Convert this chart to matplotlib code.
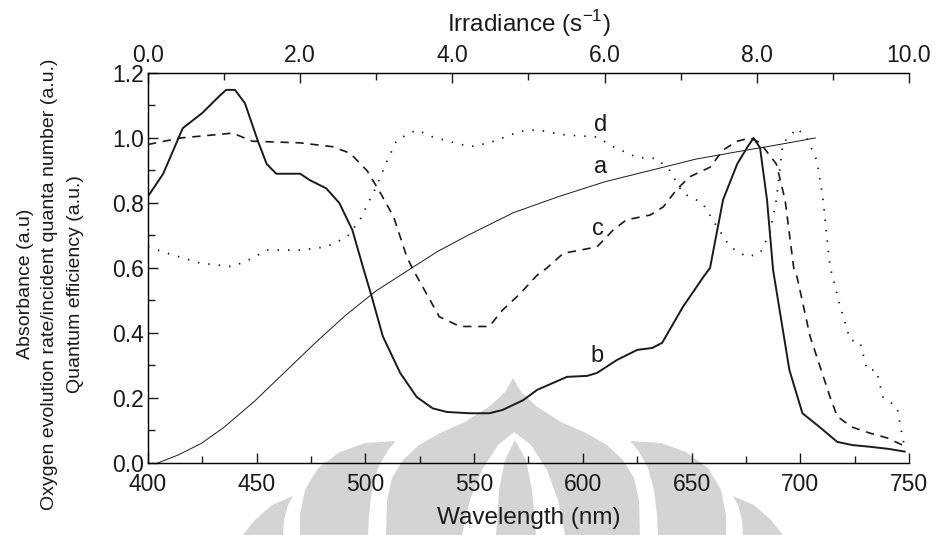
import matplotlib.pyplot as plt
from matplotlib.patches import Polygon
from matplotlib.ticker import MultipleLocator, FormatStrFormatter

plt.rcParams['font.family'] = ['Liberation Sans', 'DejaVu Sans']

# curva a: vs irradiancia (eje superior)
irr_a = [0.13, 0.4, 0.7, 1.0, 1.4, 1.8, 2.2, 2.6, 3.0, 3.4, 3.8, 4.2, 4.8, 5.4, 6.0, 6.6, 7.2, 7.8, 8.3, 8.77]
val_a = [0.0, 0.025, 0.06, 0.11, 0.19, 0.28, 0.37, 0.455, 0.53, 0.59, 0.65, 0.70, 0.77, 0.82, 0.865, 0.90, 0.935, 0.96, 0.98, 1.0]

# curva b: absorbancia
wl_b = [400, 407, 416, 425, 433, 436, 440, 444.6, 450.6, 454.6, 459, 470, 474.5, 482, 488, 494, 499,
        503, 508, 516, 523.6, 531, 537.5, 548, 557, 563, 572.5, 579, 592.7, 602, 606.5, 615.7, 625,
        632, 636.5, 646, 655.5, 658.5, 664.5, 671, 675.5, 678.5, 681.5, 684.7, 687.5, 695, 701, 709,
        717, 724, 732, 741, 748]
val_b = [0.82, 0.89, 1.03, 1.077, 1.13, 1.148, 1.148, 1.107, 0.99, 0.92, 0.89, 0.89, 0.87, 0.845, 0.80, 0.717, 0.60,
         0.51, 0.39, 0.277, 0.203, 0.168, 0.157, 0.153, 0.153, 0.163, 0.193, 0.225, 0.265, 0.268, 0.277, 0.317, 0.348,
         0.354, 0.37, 0.48, 0.573, 0.60, 0.81, 0.92, 0.97, 1.0, 0.97, 0.81, 0.594, 0.286, 0.153, 0.11,
         0.065, 0.055, 0.05, 0.043, 0.035]

# curva c: tasa de evolucion de oxigeno
wl_c = [400, 415, 439, 448, 470, 485, 493, 500.7, 507, 513, 519, 522, 534, 543.5, 557, 563, 571, 579,
        583.5, 591, 606.5, 614, 620, 631, 637, 643, 649, 658.5, 664.5, 671, 677, 681.5, 689, 693, 697,
        698.5, 704.5, 713.7, 717, 724, 732, 740, 747]
val_c = [0.98, 1.0, 1.015, 0.99, 0.985, 0.973, 0.953, 0.90, 0.83, 0.757, 0.635, 0.594, 0.45, 0.42, 0.42, 0.47, 0.52, 0.578,
         0.60, 0.645, 0.665, 0.717, 0.748, 0.763, 0.788, 0.84, 0.88, 0.91, 0.963, 0.99, 1.0, 0.985, 0.92, 0.81, 0.60,
         0.573, 0.39, 0.203, 0.143, 0.11, 0.092, 0.077, 0.055]

# curva d: eficiencia cuantica
wl_d = [400, 409, 424, 439, 448, 454.6, 470, 482, 491.5, 497.5, 505, 510, 514.5, 523.6, 531, 548, 557, 571,
        579, 591, 606.5, 614, 625, 634, 640, 646, 655, 661.7, 667.7, 675.5, 681.5, 686, 689, 692, 695,
        698.5, 703, 707.7, 710.5, 713.7, 715, 718, 723, 727.5, 730.7, 735, 738, 744.5, 747, 748]
val_d = [0.665, 0.645, 0.615, 0.604, 0.63, 0.655, 0.655, 0.665, 0.695, 0.748, 0.85, 0.93, 0.994, 1.025, 1.003, 0.973, 0.985, 1.02,
         1.025, 1.01, 1.003, 0.973, 0.94, 0.937, 0.90, 0.83, 0.80, 0.727, 0.665, 0.634, 0.645, 0.707, 0.81, 0.985, 1.003,
         1.03, 1.0, 0.93, 0.81, 0.60, 0.573, 0.49, 0.378, 0.372, 0.286, 0.286, 0.203, 0.172, 0.08, 0.05]

etiquetas = ['a', 'b', 'c', 'd']
pos_etiquetas = [(608, 0.91), (606.5, 0.33), (607, 0.72), (608, 1.04)]

W, H = 940, 535
fig = plt.figure(figsize=(9.4, 5.35), dpi=100)

# marca de agua (logo gris de fondo), en pixeles de la figura, simetrico en x=513
gris = '#d4d4d4'
def forma(pts, color, espejo=False):
    if espejo:
        pts = [(2 * 513 - x, y) for x, y in pts]
    fig.patches.append(Polygon([(x / W, 1 - y / H) for x, y in pts], closed=True,
                               transform=fig.transFigure, facecolor=color, edgecolor='none', zorder=-1))

mitad_cebolla = [(513, 378), (505, 392), (490, 406), (465, 422), (440, 433), (419, 445), (403, 460),
                 (392, 478), (387, 500), (386, 535)]
forma(mitad_cebolla + [(2 * 513 - x, y) for x, y in mitad_cebolla[::-1]], gris)
forma([(514, 432), (498, 445), (482, 470), (470, 500), (462, 535), (565, 535), (558, 500), (547, 470), (531, 445)], 'white')
forma([(515, 440), (505, 460), (499, 490), (496, 535), (536, 535), (532, 490), (526, 460)], gris)
ala = [(396, 441), (388, 450), (378, 468), (372, 490), (369, 515), (368, 535),
       (300, 535), (300, 515), (305, 490), (318, 468), (340, 452), (365, 443)]
pieza = [(293, 496), (288, 505), (284, 520), (283, 535), (243, 535), (255, 520), (272, 505)]
for esp in [False, True]:
    forma(ala, gris, esp)
    forma(pieza, gris, esp)

ax = fig.add_axes([0.1574, 0.1346, 0.8096, 0.729])
ax.patch.set_alpha(0)

ax.plot(wl_b, val_b, color='#1a1a1a', lw=1.4)
ax.plot(wl_c, val_c, color='#1a1a1a', lw=1.2, linestyle=(0, (5, 4)))
ax.plot(wl_d, val_d, color='#1a1a1a', lw=1.3, linestyle=(0, (0.8, 5)))

ax.set_xlim(400, 750)
ax.set_ylim(0, 1.2)
ax.xaxis.set_major_locator(MultipleLocator(50))
ax.xaxis.set_minor_locator(MultipleLocator(25))
ax.yaxis.set_major_locator(MultipleLocator(0.2))
ax.yaxis.set_minor_locator(MultipleLocator(0.1))
ax.yaxis.set_major_formatter(FormatStrFormatter('%.1f'))
ax.tick_params(which='both', direction='in', labelsize=16.5, colors='#1a1a1a', width=1.0)
ax.tick_params(which='major', length=7)
ax.tick_params(which='minor', length=5)
ax.tick_params(axis='y', pad=3)
ax.tick_params(axis='x', pad=7)
ax.spines['right'].set_visible(False)
for s in ['left', 'bottom', 'top']:
    ax.spines[s].set_linewidth(1.0)
    ax.spines[s].set_color('#1a1a1a')

# eje superior de irradiancia
ax2 = ax.twiny()
ax2.patch.set_alpha(0)
ax2.plot(irr_a, val_a, color='#1a1a1a', lw=0.7)
ax2.set_xlim(0, 10)
ax2.xaxis.set_major_locator(MultipleLocator(2))
ax2.xaxis.set_minor_locator(MultipleLocator(1))
ax2.xaxis.set_major_formatter(FormatStrFormatter('%.1f'))
ax2.tick_params(which='both', direction='in', labelsize=16.5, colors='#1a1a1a', width=1.0, pad=4)
ax2.tick_params(which='major', length=7)
ax2.tick_params(which='minor', length=5)
ax2.spines['right'].set_visible(False)
ax2.set_xlabel('Irradiance (s$^{\\mathregular{-1}}$)', fontsize=17.5, color='#1a1a1a', labelpad=9)

for txt, (x, y) in zip(etiquetas, pos_etiquetas):
    ax.text(x, y, txt, fontsize=17, color='#1a1a1a', ha='center', va='center')

ax.set_xlabel('Wavelength (nm)', fontsize=17.5, color='#1a1a1a', labelpad=8)

lineas_y = ['Absorbance (a.u)', 'Oxygen evolution rate/incident quanta number (a.u.)', 'Quantum efficiency (a.u.)']
for xpx, txt in zip([26, 50, 75], lineas_y):
    fig.text(xpx / W, 1 - 284 / H, txt, rotation=90, ha='center', va='center', fontsize=14, color='#1a1a1a')

plt.savefig('out.png', dpi=100)
